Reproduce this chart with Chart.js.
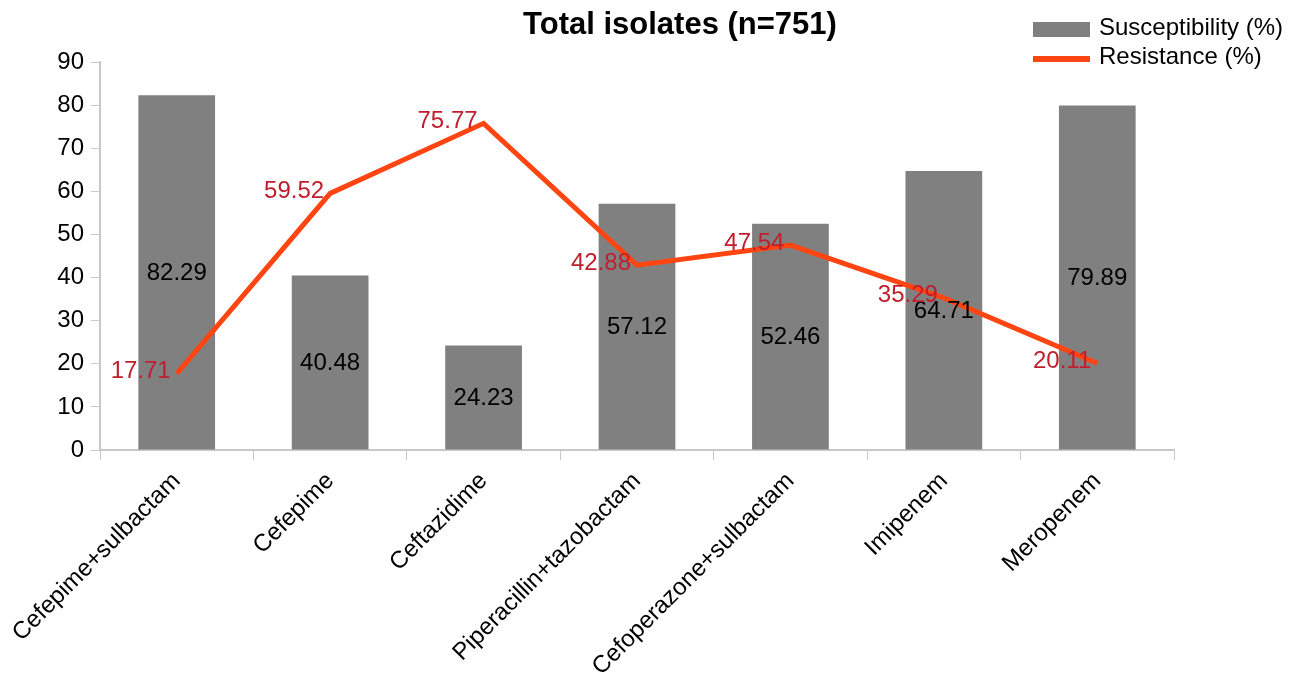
<!DOCTYPE html>
<html>
<head>
<meta charset="utf-8">
<script src="https://cdn.jsdelivr.net/npm/chart.js@4/dist/chart.umd.min.js"></script>
<style>
  html, body { margin: 0; padding: 0; background: #fff; }
  #wrap { width: 1309px; height: 682px; }
</style>
</head>
<body>
<div id="wrap"><canvas id="chart" width="1309" height="682"></canvas></div>
<script>
const chartTitle = "Total isolates (n=751)";
const drugs = ["Cefepime+sulbactam", "Cefepime", "Ceftazidime", "Piperacillin+tazobactam",
               "Cefoperazone+sulbactam", "Imipenem", "Meropenem"];
const susceptibility = [82.29, 40.48, 24.23, 57.12, 52.46, 64.71, 79.89];
const resistance = [17.71, 59.52, 75.77, 42.88, 47.54, 35.29, 20.11];
const yTicks = [0, 10, 20, 30, 40, 50, 60, 70, 80, 90];

const FONT = "Arial, 'Liberation Sans', sans-serif";
const axisGray = "#c8c8c8";

// labels + title + legend drawn by hand (no datalabels plugin here)
const extras = {
    id: "extras",
    afterDatasetsDraw(chart) {
        const ctx = chart.ctx;
        ctx.save();
        ctx.font = "24px " + FONT;

        // bar values, middle of the bar
        const bars = chart.getDatasetMeta(0).data;
        ctx.fillStyle = "#000";
        ctx.textAlign = "center";
        ctx.textBaseline = "middle";
        bars.forEach((b, i) => {
            ctx.fillText(susceptibility[i].toFixed(2), b.x, (b.y + b.base) / 2 + 1);
        });

        // line values, left of the point
        const pts = chart.getDatasetMeta(1).data;
        ctx.fillStyle = "#be1e2d";
        ctx.textAlign = "right";
        pts.forEach((p, i) => {
            ctx.fillText(resistance[i].toFixed(2), p.x - 6, p.y - 2);
        });

        // title
        ctx.fillStyle = "#000";
        ctx.textAlign = "center";
        ctx.font = "bold 31px " + FONT;
        ctx.fillText(chartTitle, 680, 25);

        // legend
        const ds = chart.data.datasets;
        ctx.font = "24px " + FONT;
        ctx.textAlign = "left";
        ctx.fillStyle = ds[0].backgroundColor;
        ctx.fillRect(1033, 22, 57, 15);
        ctx.fillStyle = "#000";
        ctx.fillText(ds[0].label, 1099, 28);
        ctx.strokeStyle = ds[1].borderColor;
        ctx.lineWidth = 6;
        ctx.beginPath();
        ctx.moveTo(1033, 59);
        ctx.lineTo(1090, 59);
        ctx.stroke();
        ctx.fillText(ds[1].label, 1099, 57);
        ctx.restore();
    }
};

new Chart(document.getElementById("chart"), {
    type: "bar",
    data: {
        labels: drugs,
        datasets: [
            {
                label: "Susceptibility (%)",
                data: susceptibility,
                backgroundColor: "#808080",
                barPercentage: 0.5,
                categoryPercentage: 1,
                order: 1
            },
            {
                type: "line",
                label: "Resistance (%)",
                data: resistance,
                borderColor: "#ff4512",
                backgroundColor: "#ff4512",
                borderWidth: 5,
                pointRadius: 0,
                tension: 0,
                fill: false,
                order: 0
            }
        ]
    },
    options: {
        responsive: false,
        animation: false,
        layout: { padding: { top: 62, right: 135, left: 0, bottom: 0 } },
        plugins: {
            legend: { display: false },
            title: { display: false },
            tooltip: { enabled: false }
        },
        scales: {
            x: {
                grid: { display: true, drawOnChartArea: false, drawTicks: true, tickLength: 10, color: axisGray, offset: true },
                border: { display: true, color: axisGray, width: 2 },
                ticks: {
                    color: "#000",
                    font: { size: 24, family: FONT },
                    maxRotation: 45,
                    minRotation: 45,
                    autoSkip: false,
                    padding: 7
                },
                afterFit(s) {
                    s.height = 232;
                    s.paddingLeft = 0;
                    s.paddingRight = 0;
                }
            },
            y: {
                min: 0,
                max: 90,
                afterBuildTicks(s) { s.ticks = yTicks.map(v => ({ value: v })); },
                grid: { display: true, drawOnChartArea: false, drawTicks: true, tickLength: 9, color: axisGray },
                border: { display: true, color: axisGray, width: 2 },
                ticks: {
                    color: "#000",
                    font: { size: 24, family: FONT },
                    padding: 7
                },
                afterFit(s) { s.width = 100; }
            }
        }
    },
    plugins: [extras]
});
</script>
</body>
</html>
